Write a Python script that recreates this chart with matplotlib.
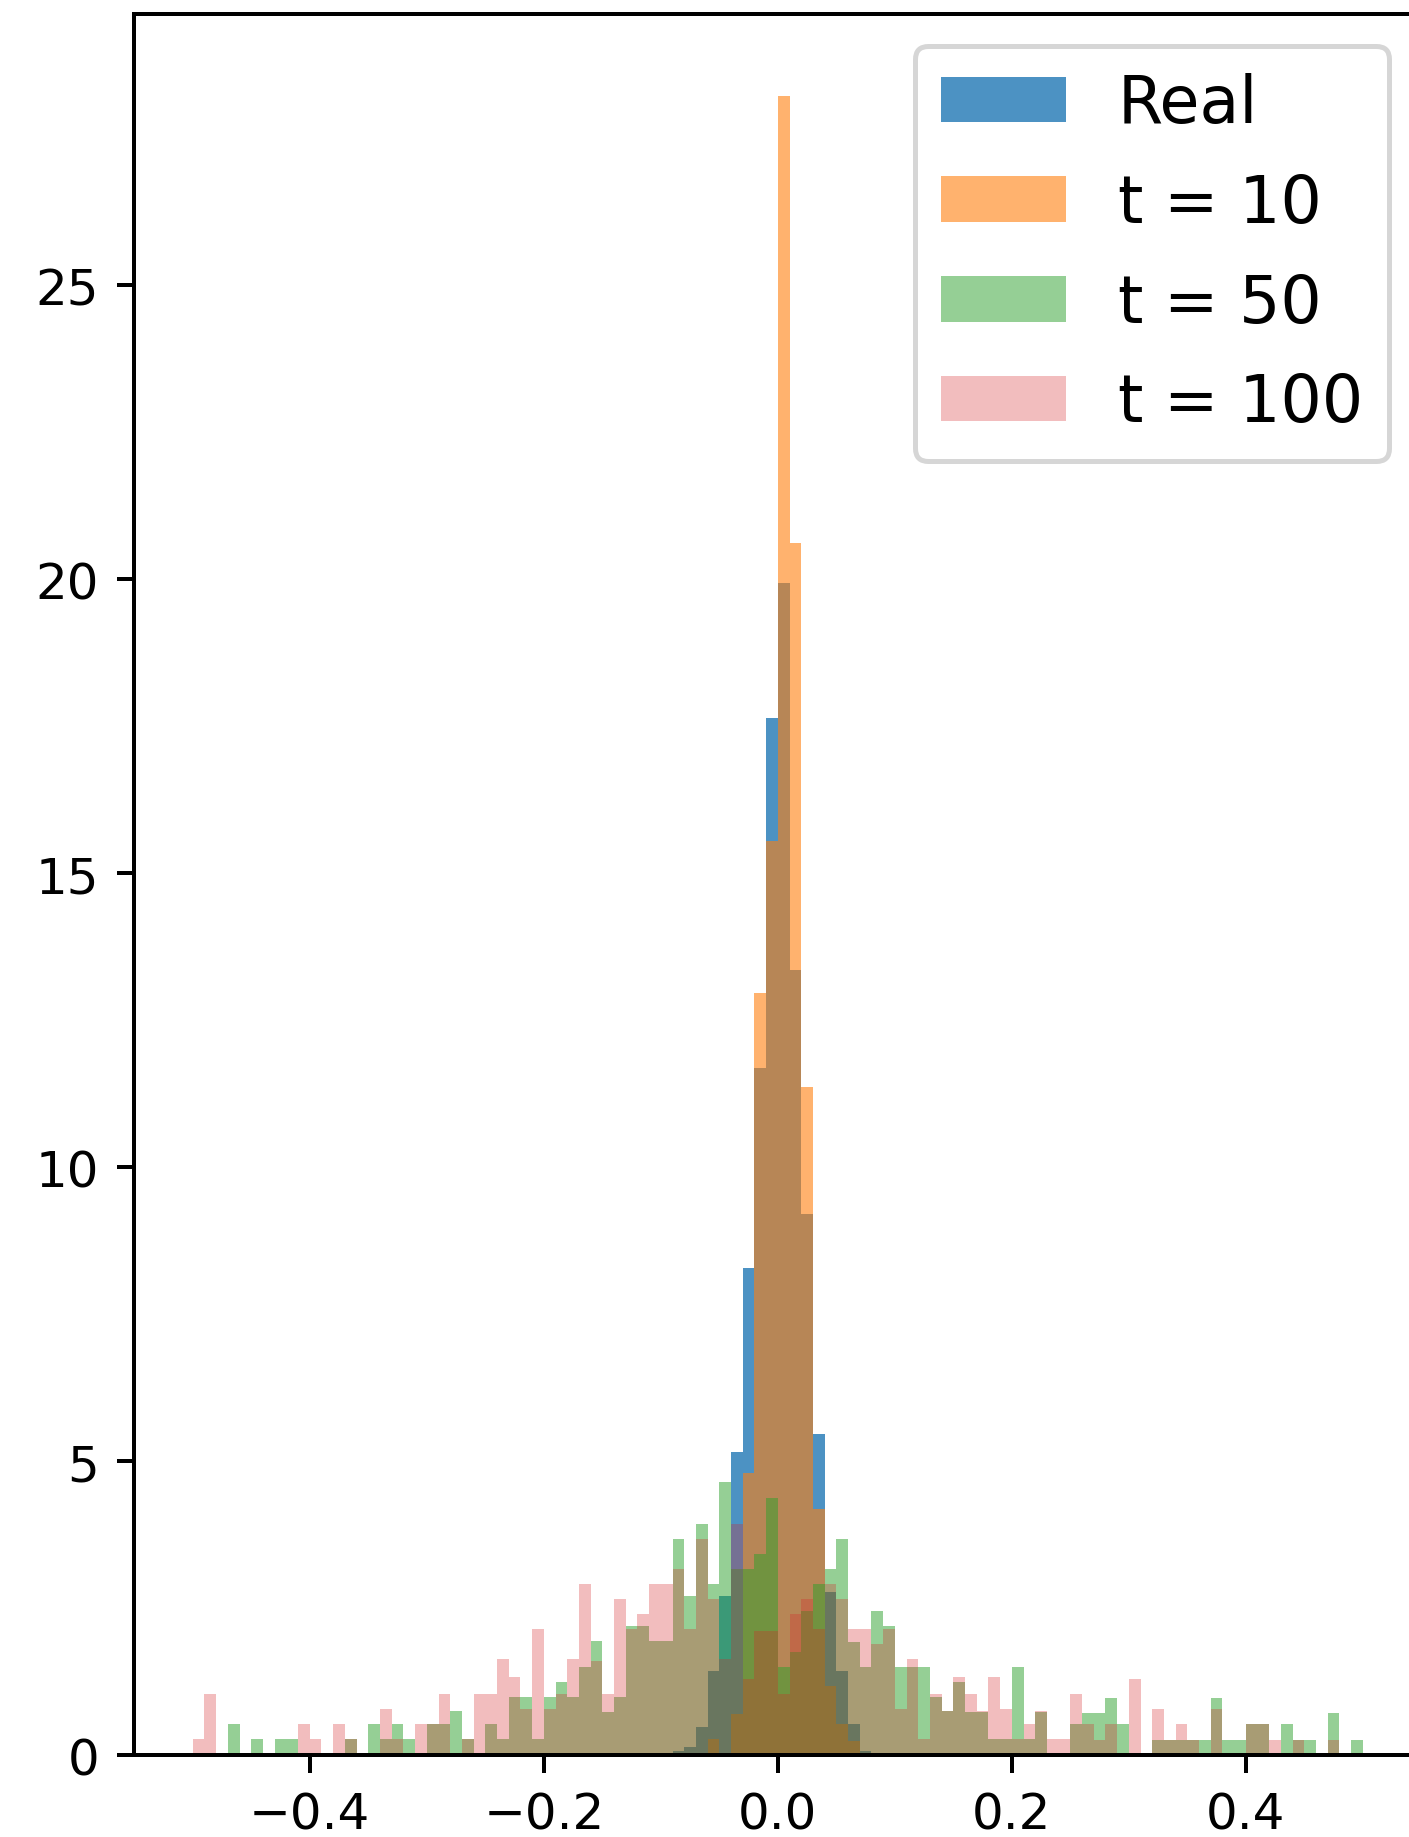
import matplotlib.pyplot as plt
import numpy as np

# shared histogram grid: 100 bins of width 0.01 on [-0.5, 0.5]
bin_edges = np.linspace(-0.5, 0.5, 101)

# density per bin; the narrow distributions only list their occupied bins
real_first_bin = 40
real_density = [0.03, 0.07, 0.13, 0.47, 1.43, 2.71, 5.15, 8.29, 11.68, 17.64,
                19.94, 13.36, 9.21, 5.46, 2.77, 1.43, 0.53, 0.07]

t10_first_bin = 44
t10_density = [0.27, 0.00, 0.70, 4.80, 12.96, 15.55, 28.21, 20.61, 11.36, 4.19,
               1.18, 0.53, 0.24]

t50_density = [
    0.00, 0.00, 0.00, 0.53, 0.00, 0.27, 0.00, 0.27, 0.27, 0.00,
    0.00, 0.00, 0.00, 0.27, 0.00, 0.53, 0.27, 0.53, 0.27, 0.00,
    0.53, 0.53, 0.75, 0.27, 0.00, 0.53, 0.27, 0.98, 0.98, 0.27,
    0.98, 1.24, 0.98, 1.49, 1.94, 0.73, 0.98, 2.20, 2.20, 1.94,
    1.94, 3.67, 2.71, 3.93, 2.91, 4.64, 3.16, 3.16, 3.42, 4.37,
    1.49, 1.75, 2.45, 2.91, 3.16, 3.67, 1.92, 1.49, 2.45, 2.20,
    1.49, 1.49, 1.49, 0.98, 0.75, 1.24, 0.73, 0.73, 0.27, 0.27,
    1.49, 0.27, 0.73, 0.00, 0.00, 0.53, 0.71, 0.71, 0.97, 0.52,
    0.00, 0.00, 0.26, 0.26, 0.26, 0.26, 0.26, 0.97, 0.26, 0.26,
    0.52, 0.52, 0.00, 0.52, 0.26, 0.26, 0.00, 0.71, 0.00, 0.26,
]

t100_density = [
    0.27, 1.04, 0.00, 0.00, 0.00, 0.00, 0.00, 0.00, 0.00, 0.53,
    0.27, 0.00, 0.53, 0.27, 0.00, 0.00, 0.78, 0.27, 0.00, 0.53,
    0.53, 1.04, 0.00, 0.27, 1.04, 1.04, 1.63, 1.32, 0.78, 2.14,
    0.78, 1.04, 1.63, 2.91, 1.60, 1.04, 2.65, 2.14, 2.40, 2.91,
    2.91, 3.16, 2.14, 3.67, 2.65, 1.63, 3.93, 1.29, 2.11, 2.11,
    1.04, 2.40, 2.65, 2.14, 2.91, 2.65, 2.14, 2.14, 1.89, 2.14,
    0.78, 1.63, 0.27, 1.04, 0.75, 1.32, 1.04, 0.75, 1.32, 0.78,
    0.27, 0.53, 0.75, 0.27, 0.27, 1.04, 0.52, 0.26, 0.52, 0.00,
    1.30, 0.00, 0.78, 0.26, 0.52, 0.26, 0.00, 0.78, 0.00, 0.00,
    0.52, 0.52, 0.26, 0.00, 0.26, 0.00, 0.00, 0.26, 0.00, 0.00,
]


def full_grid(first_bin, values):
    out = np.zeros(len(bin_edges) - 1)
    out[first_bin:first_bin + len(values)] = values
    return out


series = [
    ("Real", full_grid(real_first_bin, real_density), "tab:blue", 0.8),
    ("t = 10", full_grid(t10_first_bin, t10_density), "tab:orange", 0.6),
    ("t = 50", np.array(t50_density), "tab:green", 0.5),
    ("t = 100", np.array(t100_density), "tab:red", 0.3),
]

dpi = 360
fig = plt.figure(figsize=(1409 / dpi, 1838 / dpi), dpi=dpi)
ax = fig.add_axes([0.0953, 0.0446, 0.9135, 0.9475])

centers = 0.5 * (bin_edges[:-1] + bin_edges[1:])
for label, dens, color, alpha in series:
    ax.hist(centers, bins=bin_edges, weights=dens, color=color, alpha=alpha, label=label)

ax.legend(loc="upper right", fontsize=13, handlelength=1.91, labelspacing=0.55)

fig.savefig("out.png", dpi=dpi)
